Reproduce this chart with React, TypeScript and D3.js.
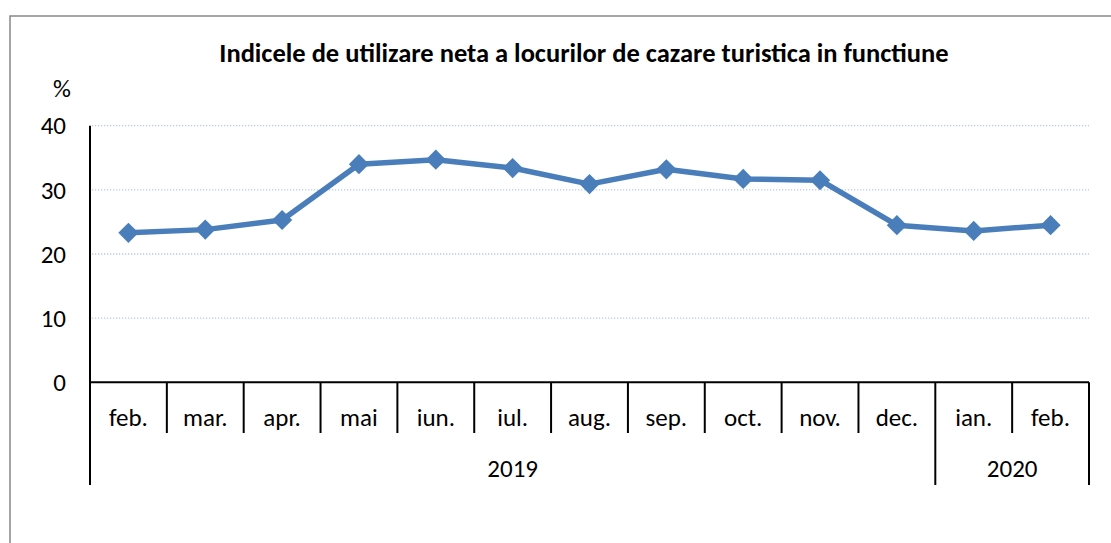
import * as d3 from 'd3';

const months = ['feb.', 'mar.', 'apr.', 'mai', 'iun.', 'iul.', 'aug.', 'sep.', 'oct.', 'nov.', 'dec.', 'ian.', 'feb.'];
const values = [23.3, 23.8, 25.3, 34.0, 34.7, 33.4, 30.9, 33.2, 31.7, 31.5, 24.5, 23.6, 24.5];
const years = [
  { label: '2019', from: 0, to: 10 },
  { label: '2020', from: 11, to: 12 },
];
const yTicks = [0, 10, 20, 30, 40];

const W = 1111;
const H = 543;
const left = 90;
const right = 1089;
const top = 125.7;
const bottom = 382.3;
const font = 'Carlito, Calibri, Lato, sans-serif';

export default function App() {
  const ids = months.map((_, i) => String(i));
  const x = d3.scaleBand<string>().domain(ids).range([left, right]);
  const y = d3.scaleLinear().domain([0, 40]).range([bottom, top]);
  const cx = (i: number) => (x(String(i)) || 0) + x.bandwidth() / 2;

  const line = d3.line<number>()
    .x((_, i) => cx(i))
    .y(d => y(d));

  const diamond = d3.symbol().type(d3.symbolDiamond2).size(260)();

  const bounds = d3.range(months.length + 1).map(i => left + i * x.bandwidth());
  const yearEdges = new Set<number>([0, ...years.map(g => g.to + 1)]);

  return (
    <svg width={W} height={H} style={{ position: 'absolute', left: 0, top: 0 }} fontFamily={font}>
      <rect x={0} y={0} width={W} height={H} fill="#fff" />
      <rect x={10} y={16} width={W + 10} height={H + 10} fill="none" stroke="#888" strokeWidth={1.5} />

      <text x={584} y={62} textAnchor="middle" fontSize={26.5} fontWeight="bold" fill="#000">
        Indicele de utilizare neta a locurilor de cazare turistica in functiune
      </text>

      {/* gridlines */}
      {yTicks.filter(t => t > 0).map(t => (
        <line key={t} x1={left + 2} x2={right} y1={y(t)} y2={y(t)}
          stroke="#B7CBEA" strokeWidth={1.3} strokeDasharray="1.3 1.7" />
      ))}

      {/* y labels */}
      <text x={62} y={97} textAnchor="middle" fontSize={25} fill="#000">%</text>
      {yTicks.map(t => (
        <text key={t} x={66} y={y(t)} dy="0.35em" textAnchor="end" fontSize={25} fill="#000">{t}</text>
      ))}

      {/* axes */}
      <line x1={left} x2={left} y1={top} y2={485} stroke="#000" strokeWidth={2} />
      <line x1={left} x2={right} y1={bottom} y2={bottom} stroke="#000" strokeWidth={2} />
      {bounds.map((b, i) => (
        <line key={i} x1={b} x2={b} y1={bottom} y2={yearEdges.has(i) ? 485 : 433}
          stroke="#000" strokeWidth={2} />
      ))}

      {/* category labels */}
      {months.map((m, i) => (
        <text key={i} x={cx(i)} y={417} dy="0.35em" textAnchor="middle" fontSize={25} fill="#000">{m}</text>
      ))}
      {years.map(g => (
        <text key={g.label} x={(bounds[g.from] + bounds[g.to + 1]) / 2} y={468} dy="0.35em"
          textAnchor="middle" fontSize={25} fill="#000">{g.label}</text>
      ))}

      {/* series */}
      <path d={line(values) || ''} fill="none" stroke="#4A7EBB" strokeWidth={5.5} strokeLinejoin="round" />
      {values.map((v, i) => (
        <path key={i} d={diamond || ''} transform={`translate(${cx(i)},${y(v)})`} fill="#4A7EBB" />
      ))}
    </svg>
  );
}
